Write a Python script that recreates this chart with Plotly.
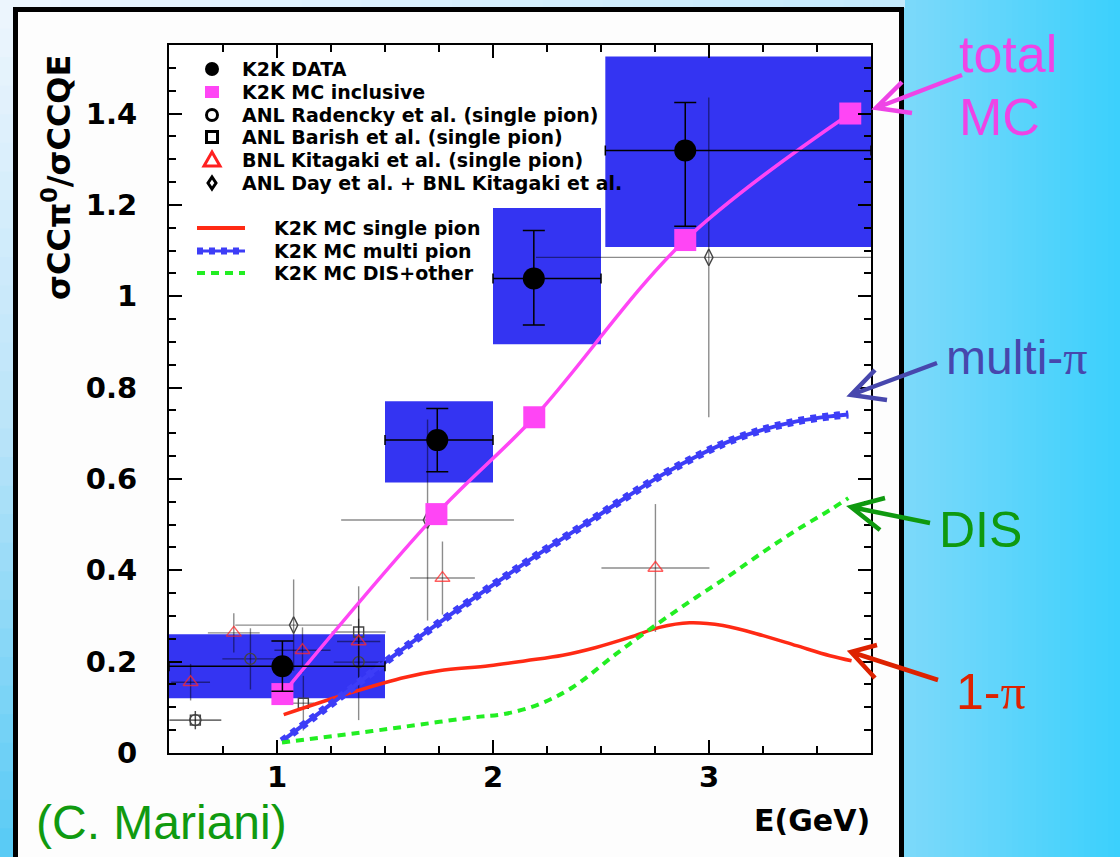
import plotly.graph_objects as go

# ---------------- data: sigma(CC pi0) / sigma(CCQE) vs neutrino energy ----------------
# K2K measurement (statistical error bars, energy bins and systematic bands)
k2k_energy = [1.025, 1.742, 2.189, 2.890]
k2k_ratio = [0.190, 0.685, 1.039, 1.319]
k2k_stat_up = [0.055, 0.069, 0.105, 0.105]
k2k_stat_dn = [0.055, 0.069, 0.102, 0.166]
k2k_bin_lo = [0.50, 1.50, 2.00, 2.52]
k2k_bin_hi = [1.50, 2.00, 2.50, 3.75]
k2k_sys_lo = [0.120, 0.592, 0.895, 1.108]
k2k_sys_hi = [0.260, 0.770, 1.193, 1.525]

# K2K Monte Carlo, inclusive
mc_incl_energy = [1.025, 1.738, 2.191, 2.890, 3.654]
mc_incl_ratio = [0.129, 0.523, 0.735, 1.123, 1.400]

# K2K Monte Carlo components
mc_single_energy = [1.031, 1.348, 1.595, 1.750, 1.982, 2.152, 2.323, 2.477, 2.632,
                    2.771, 2.910, 3.065, 3.251, 3.405, 3.560, 3.660]
mc_single_ratio = [0.084, 0.133, 0.166, 0.180, 0.191, 0.202, 0.214, 0.231, 0.253,
                   0.275, 0.285, 0.279, 0.257, 0.235, 0.213, 0.202]

mc_multi_energy = [1.023, 1.286, 1.518, 1.750, 1.982, 2.200, 2.462, 2.617,
                   2.787, 2.957, 3.096, 3.251, 3.405, 3.560, 3.645]
mc_multi_ratio = [0.026, 0.120, 0.205, 0.285, 0.362, 0.432, 0.512, 0.560,
                  0.610, 0.653, 0.683, 0.708, 0.726, 0.737, 0.741]

mc_dis_energy = [1.023, 1.441, 1.673, 1.905, 2.059, 2.214, 2.369, 2.570, 2.771,
                 2.941, 3.096, 3.251, 3.405, 3.560, 3.645]
mc_dis_ratio = [0.023, 0.048, 0.063, 0.078, 0.086, 0.107, 0.144, 0.217, 0.286,
                0.341, 0.389, 0.440, 0.488, 0.532, 0.558]

# older bubble-chamber results
radencky_energy = [0.622, 0.877, 1.378]
radencky_ratio = [0.072, 0.206, 0.199]
radencky_de = [0.12, 0.13, 0.115]
radencky_dr = [0.020, 0.067, 0.127]

barish_energy = [0.622, 1.122, 1.378]
barish_ratio = [0.072, 0.109, 0.265]
barish_de = [0.12, 0.05, 0.125]
barish_dr = [0.020, 0.060, 0.100]

kitagaki_energy = [0.600, 0.800, 1.118, 1.378, 1.766, 2.752]
kitagaki_ratio = [0.155, 0.263, 0.225, 0.244, 0.383, 0.405]
kitagaki_de = [0.09, 0.12, 0.13, 0.10, 0.15, 0.25]
kitagaki_dr = [0.040, 0.043, 0.050, 0.050, 0.080, 0.140]

day_energy = [1.077, 1.697, 2.999]
day_ratio = [0.280, 0.510, 1.085]
day_de = [0.27, 0.40, 0.80]
day_dr = [0.10, 0.22, 0.35]

x_ticks = [1, 2, 3]
y_ticks = [0, 0.2, 0.4, 0.6, 0.8, 1.0, 1.2, 1.4]

# ---------------- styling ----------------
W_FIG, H_FIG = 1120, 857
L, R, T, B = 169, 871, 45, 753          # plot-area edges in pixels
PW, PH = R - L, B - T

BOX_BLUE = "#3434f2"
MULTI_BLUE = "#3d3df7"
RED = "#ff2a14"
GREEN = "#22ee22"
MAGENTA = "#ff45f5"
FAINT = "rgba(0,0,0,0.45)"
OPEN_GREY = "#444444"
TRI_RED = "rgba(255,40,40,0.75)"
BOLD = "DejaVu Sans"
SANS = "Liberation Sans, Arial, sans-serif"


def px(xp):
    return (xp - L) / PW


def py(yp):
    return (B - yp) / PH


def mix(c1, c2, t):
    return "rgb(%d,%d,%d)" % tuple(round(a + (b - a) * t) for a, b in zip(c1, c2))


fig = go.Figure()

# systematic boxes of the K2K points
shapes = []
for lo, hi, slo, shi in zip(k2k_bin_lo, k2k_bin_hi, k2k_sys_lo, k2k_sys_hi):
    shapes.append(dict(type="rect", xref="x", yref="y", x0=lo, x1=hi, y0=slo, y1=shi,
                       fillcolor=BOX_BLUE, line_width=0, layer="below"))


def old_points(e, r, de, dr, symbol, color, size):
    fig.add_trace(go.Scatter(
        x=e, y=r, mode="markers",
        marker=dict(symbol=symbol, size=size, color=color, line=dict(width=1.4, color=color)),
        error_x=dict(type="data", array=de, color=FAINT, thickness=1.4, width=0),
        error_y=dict(type="data", array=dr, color=FAINT, thickness=1.4, width=0),
        showlegend=False, cliponaxis=True))


old_points(radencky_energy, radencky_ratio, radencky_de, radencky_dr, "circle-open", OPEN_GREY, 11)
old_points(barish_energy, barish_ratio, barish_de, barish_dr, "square-open", OPEN_GREY, 10)
old_points(kitagaki_energy, kitagaki_ratio, kitagaki_de, kitagaki_dr, "triangle-up-open", TRI_RED, 13)
old_points(day_energy, day_ratio, day_de, day_dr, "diamond-tall-open", OPEN_GREY, 12)

# MC components
fig.add_trace(go.Scatter(x=mc_single_energy, y=mc_single_ratio, mode="lines",
                         line=dict(color=RED, width=3.5, shape="spline"), showlegend=False))
fig.add_trace(go.Scatter(x=mc_multi_energy, y=mc_multi_ratio, mode="lines",
                         line=dict(color=MULTI_BLUE, width=4, shape="spline"), showlegend=False))
fig.add_trace(go.Scatter(x=mc_multi_energy, y=mc_multi_ratio, mode="lines",
                         line=dict(color=MULTI_BLUE, width=8, shape="spline", dash="6px,6px"),
                         showlegend=False))
fig.add_trace(go.Scatter(x=mc_dis_energy, y=mc_dis_ratio, mode="lines",
                         line=dict(color=GREEN, width=4, shape="spline", dash="8px,6px"),
                         showlegend=False))

# MC inclusive
fig.add_trace(go.Scatter(x=mc_incl_energy, y=mc_incl_ratio, mode="lines+markers",
                         line=dict(color=MAGENTA, width=3.5, shape="spline", smoothing=1.0),
                         marker=dict(symbol="square", size=22, color=MAGENTA),
                         showlegend=False))

# K2K data
fig.add_trace(go.Scatter(
    x=k2k_energy, y=k2k_ratio, mode="markers",
    marker=dict(symbol="circle", size=22, color="black"),
    error_y=dict(type="data", symmetric=False, array=k2k_stat_up, arrayminus=k2k_stat_dn,
                 color="black", thickness=1.5, width=11),
    error_x=dict(type="data", symmetric=False,
                 array=[h - e for h, e in zip(k2k_bin_hi, k2k_energy)],
                 arrayminus=[e - l for e, l in zip(k2k_energy, k2k_bin_lo)],
                 color="black", thickness=1.5, width=5),
    showlegend=False))

# ---------------- page background, panel frame ----------------
bg_shapes = []
right_l, right_r = (124, 217, 250), (60, 208, 252)
n = 36
for i in range(n):
    x0 = 904 + (1120 - 904) * i / n
    x1 = 904 + (1120 - 904) * (i + 1) / n + 1
    bg_shapes.append(dict(type="rect", xref="paper", yref="paper", x0=px(x0), x1=px(x1),
                          y0=py(-2), y1=py(860), fillcolor=mix(right_l, right_r, i / (n - 1)),
                          line_width=0, layer="below"))
top_l, top_r = (236, 245, 253), (196, 234, 252)
n = 30
for i in range(n):
    x0 = 0 + 904 * i / n
    x1 = 904 * (i + 1) / n + 1
    bg_shapes.append(dict(type="rect", xref="paper", yref="paper", x0=px(x0), x1=px(x1),
                          y0=py(-2), y1=py(8), fillcolor=mix(top_l, top_r, i / (n - 1)),
                          line_width=0, layer="below"))
left_t, left_m, left_b = (236, 245, 253), (186, 228, 249), (90, 203, 245)
n = 30
for i in range(n):
    y0 = 857 * i / n
    y1 = 857 * (i + 1) / n + 1
    t = i / (n - 1)
    col = mix(left_t, left_m, t * 2) if t < 0.5 else mix(left_m, left_b, (t - 0.5) * 2)
    bg_shapes.append(dict(type="rect", xref="paper", yref="paper", x0=px(-2), x1=px(14),
                          y0=py(y0), y1=py(y1), fillcolor=col, line_width=0, layer="below"))
bg_shapes.append(dict(type="rect", xref="paper", yref="paper", x0=px(15.5), x1=px(901.5),
                      y0=py(9.5), y1=py(900), line=dict(color="black", width=5),
                      fillcolor="rgba(0,0,0,0)", layer="above"))

# ---------------- hand-drawn legend ----------------
key_x = 212
rows = [69, 92, 115, 137, 160, 183]


def pix_shape(kind, cx, cy, hw, hh, fill, line_color, lw, path=None):
    d = dict(type=kind, xref="paper", yref="paper", xsizemode="pixel", ysizemode="pixel",
             xanchor=px(cx), yanchor=py(cy), fillcolor=fill,
             line=dict(color=line_color, width=lw), layer="above")
    if path:
        d["path"] = path
    else:
        d.update(x0=-hw, x1=hw, y0=-hh, y1=hh)
    return d


legend_shapes = [
    pix_shape("circle", key_x, rows[0], 7, 7, "black", "black", 0),
    pix_shape("rect", key_x, rows[1], 7, 6, MAGENTA, MAGENTA, 0),
    pix_shape("circle", key_x, rows[2], 5.5, 5.5, "rgba(0,0,0,0)", "black", 3),
    pix_shape("rect", key_x, rows[3], 5.5, 5.5, "rgba(0,0,0,0)", "black", 3),
    pix_shape("path", key_x, rows[4], 0, 0, "rgba(0,0,0,0)", "#ff2020", 3,
              path="M -8,-6 L 8,-6 L 0,8 Z"),
    pix_shape("path", key_x, rows[5], 0, 0, "rgba(0,0,0,0)", "black", 3,
              path="M 0,-6 L 4,0 L 0,6 L -4,0 Z"),
]
line_rows = [228, 251, 273]
legend_shapes += [
    dict(type="line", xref="paper", yref="paper", x0=px(197), x1=px(245),
         y0=py(line_rows[0]), y1=py(line_rows[0]), line=dict(color=RED, width=4)),
    dict(type="line", xref="paper", yref="paper", x0=px(197), x1=px(245),
         y0=py(line_rows[1]), y1=py(line_rows[1]), line=dict(color=MULTI_BLUE, width=3)),
    dict(type="line", xref="paper", yref="paper", x0=px(197), x1=px(245),
         y0=py(line_rows[1]), y1=py(line_rows[1]), line=dict(color=MULTI_BLUE, width=7, dash="6px,6px")),
    dict(type="line", xref="paper", yref="paper", x0=px(197), x1=px(245),
         y0=py(line_rows[2]), y1=py(line_rows[2]), line=dict(color=GREEN, width=4, dash="8px,6px")),
]

legend_texts = ["K2K DATA", "K2K MC inclusive", "ANL Radencky et al. (single pion)",
                "ANL Barish et al. (single pion)", "BNL Kitagaki et al. (single pion)",
                "ANL Day et al. + BNL Kitagaki et al."]
line_texts = ["K2K MC single pion", "K2K MC multi pion", "K2K MC DIS+other"]

annotations = []
for txt, yy in zip(legend_texts, rows):
    annotations.append(dict(text="<b>%s</b>" % txt, x=px(240), y=py(yy), xref="paper", yref="paper",
                            xanchor="left", yanchor="middle", showarrow=False,
                            font=dict(family=BOLD, size=19, color="black")))
for txt, yy in zip(line_texts, line_rows):
    annotations.append(dict(text="<b>%s</b>" % txt, x=px(272), y=py(yy), xref="paper", yref="paper",
                            xanchor="left", yanchor="middle", showarrow=False,
                            font=dict(family=BOLD, size=19, color="black")))

# axis titles
annotations.append(dict(text="<b>σCCπ<sup>0</sup>/σCCQE</b>", x=px(57), y=py(178),
                        xref="paper", yref="paper", textangle=-90, showarrow=False,
                        xanchor="center", yanchor="middle",
                        font=dict(family=BOLD, size=32, color="black")))
annotations.append(dict(text="<b>E(GeV)</b>", x=px(872), y=py(820), xref="paper", yref="paper",
                        xanchor="right", yanchor="middle", showarrow=False,
                        font=dict(family=BOLD, size=30, color="black")))
annotations.append(dict(text="(C. Mariani)", x=px(34), y=py(822), xref="paper", yref="paper",
                        xanchor="left", yanchor="middle", showarrow=False,
                        font=dict(family=SANS, size=48, color="#109a10")))

# side labels with hand-drawn arrows
PI = '<span style="font-family:Liberation Serif">π</span>'
side_labels = [
    ("total", 957, 54, 52, "#ee44e6"),
    ("MC", 957, 117, 52, "#ee44e6"),
    ("multi-" + PI, 944, 357, 48, "#4747ad"),
    ("DIS", 937, 530, 50, "#0f990f"),
    ("1-" + PI, 954, 692, 50, "#dd2200"),
]
for txt, xx, yy, size, col in side_labels:
    annotations.append(dict(text=txt, x=px(xx), y=py(yy), xref="paper", yref="paper",
                            xanchor="left", yanchor="middle", showarrow=False,
                            font=dict(family=SANS, size=size, color=col)))

arrows = [
    ((962, 75), (876, 108), (902, 82), (912, 113), "#ee44e6"),
    ((937, 363), (851, 395), (875, 370), (887, 400), "#4747ad"),
    ((930, 523), (851, 507), (885, 498), (880, 530), "#0f990f"),
    ((938, 680), (851, 652), (877, 645), (875, 678), "#dd2200"),
]
arrow_shapes = []
for (sx, sy), (tx, ty), (h1x, h1y), (h2x, h2y), col in arrows:
    path = "M %f,%f L %f,%f M %f,%f L %f,%f L %f,%f" % (
        px(sx), py(sy), px(tx), py(ty), px(h1x), py(h1y), px(tx), py(ty), px(h2x), py(h2y))
    arrow_shapes.append(dict(type="path", xref="paper", yref="paper", path=path,
                             line=dict(color=col, width=4.5), layer="above"))

axis_common = dict(
    showline=True, linecolor="black", linewidth=2, mirror="ticks",
    ticks="inside", ticklen=13, tickwidth=2, tickcolor="black",
    showgrid=False, zeroline=False,
    tickfont=dict(family=BOLD, size=29, color="black", weight="bold"),
)

fig.update_layout(
    width=W_FIG, height=H_FIG,
    margin=dict(l=L, r=W_FIG - R, t=T, b=H_FIG - B, pad=0),
    paper_bgcolor="#fdfdfd", plot_bgcolor="white",
    showlegend=False,
    xaxis=dict(range=[0.5, 3.75], tickvals=x_ticks, ticklabelstandoff=-3,
               minor=dict(dtick=0.25, tick0=0, ticks="inside", ticklen=7, tickwidth=2,
                          tickcolor="black"),
               **axis_common),
    yaxis=dict(range=[0, 1.55], tickvals=y_ticks, ticktext=[("%g" % v) for v in y_ticks],
               ticklabelstandoff=24,
               minor=dict(dtick=0.05, tick0=0, ticks="inside", ticklen=7, tickwidth=2,
                          tickcolor="black"),
               **axis_common),
    shapes=bg_shapes + shapes + legend_shapes + arrow_shapes,
    annotations=annotations,
)

fig.write_html("out.html")
